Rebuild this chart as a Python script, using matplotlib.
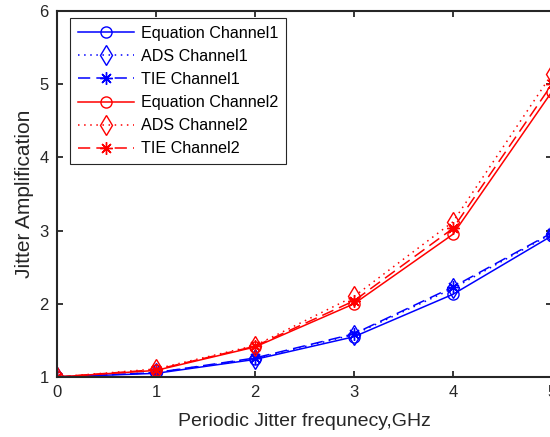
import matplotlib
matplotlib.use('Agg')
import matplotlib.pyplot as plt

plt.rcParams['font.family'] = ['Liberation Sans', 'DejaVu Sans']

freq = [0, 1, 2, 3, 4, 5]  # GHz
eq_ch1 = [1.0, 1.05, 1.24, 1.55, 2.13, 2.93]
ads_ch1 = [1.0, 1.06, 1.25, 1.58, 2.21, 2.96]
tie_ch1 = [1.0, 1.06, 1.26, 1.59, 2.23, 2.97]
eq_ch2 = [1.0, 1.09, 1.41, 2.0, 2.95, 4.90]
ads_ch2 = [1.0, 1.11, 1.43, 2.10, 3.12, 5.14]
tie_ch2 = [1.0, 1.10, 1.42, 2.04, 3.03, 5.00]

ast = (8, 2, 0)  # asterisk marker, like matlab '*'

fig = plt.figure(figsize=(5.5, 4.37), dpi=100)
ax = fig.add_axes([57/550, 60/437, 495/550, 366/437])

ax.plot(freq, eq_ch1, color='#0000ff', lw=1.1, marker='o', mfc='none', ms=8, label='Equation Channel1')
ax.plot(freq, ads_ch1, color='#0000ff', lw=1.1, ls=(0, (1, 3)), marker='d', mfc='none', ms=10, label='ADS Channel1')
ax.plot(freq, tie_ch1, color='#0000ff', lw=1.1, ls=(0, (8, 4)), marker=ast, ms=9, label='TIE Channel1')
ax.plot(freq, eq_ch2, color='#ff0000', lw=1.1, marker='o', mfc='none', ms=8, label='Equation Channel2')
ax.plot(freq, ads_ch2, color='#ff0000', lw=1.1, ls=(0, (1, 3)), marker='d', mfc='none', ms=10, label='ADS Channel2')
ax.plot(freq, tie_ch2, color='#ff0000', lw=1.1, ls=(0, (8, 4)), marker=ast, ms=9, label='TIE Channel2')

ax.set_xlim(0, 5)
ax.set_ylim(1, 6)
ax.set_xticks(freq)
ax.set_yticks([1, 2, 3, 4, 5, 6])
ax.tick_params(direction='in', top=True, right=True, length=4, width=1.3,
               labelsize=12, colors='#262626', pad=6)
for s in ax.spines.values():
    s.set_linewidth(1.5)
    s.set_color('#262626')

ax.set_xlabel('Periodic Jitter frequnecy,GHz', fontsize=14, color='#262626', labelpad=9)
ax.set_ylabel('Jitter Amplification', fontsize=15, color='#262626', labelpad=4)

leg = ax.legend(loc='upper left', bbox_to_anchor=(0.026, 0.981), borderaxespad=0,
                fontsize=11.6, handlelength=3.5, handletextpad=0.4, labelspacing=0.5,
                borderpad=0.5, fancybox=False, framealpha=1)
leg.get_frame().set_edgecolor('#262626')
leg.get_frame().set_linewidth(0.8)

fig.savefig('out.png', dpi=100)
